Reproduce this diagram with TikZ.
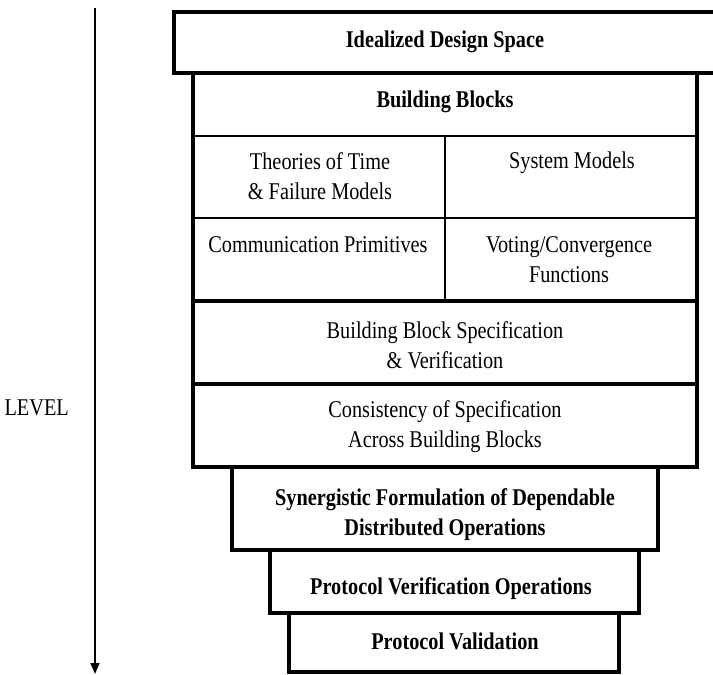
\documentclass[tikz,border=0pt]{standalone}
\usepackage{fontspec}
\newfontfamily\regf{Liberation Serif}[FakeStretch=0.845]
\newfontfamily\boldf{Liberation Serif}[FakeStretch=0.845]
\usetikzlibrary{arrows.meta}
\begin{document}
\begin{tikzpicture}[x=1pt,y=-1pt,
  reg/.style={font=\regf\fontsize{24}{30}\selectfont, align=center, inner sep=0pt},
  bld/.style={font=\boldf\bfseries\fontsize{24}{30}\selectfont, align=center, inner sep=0pt},
  heavy/.style={line width=4.3pt},
  outer/.style={line width=3.3pt},
  thin/.style={line width=1.8pt}]
\useasboundingbox (0,0) rectangle (713,675);
\fill[white] (0,0) rectangle (713,675);
% top box
\draw[heavy] (174,12) rectangle (725,73);
% building block stack
\draw[outer] (193,73) -- (193,467);
\draw[outer] (697,73) -- (697,467);
\draw[line width=2.5pt] (193,136) -- (697,136);
\draw[thin] (193,218) -- (697,218);
\draw[line width=3.5pt] (193,301) -- (697,301);
\draw[heavy] (193,384) -- (697,384);
\draw[thin] (445,136) -- (445,301);
\draw[heavy] (191.35,467) -- (698.65,467);
% lower boxes
\draw[line width=4pt] (232,467) rectangle (658,550);
\draw[line width=4pt] (270,550) rectangle (639,613);
\draw[line width=4pt] (289,613) rectangle (619,672);
% texts
\node[bld] (ids) at (445,42) {Idealized Design Space};
\node[bld] (bb) at (445,102) {Building Blocks};
\node[reg] (tt) at (320,176) {Theories of Time\\\& Failure Models};
\node[reg,anchor=north] (sm) at (572,152) {System Models};
\node[reg,anchor=north] (cp) at (318,236) {Communication Primitives};
\node[reg] (vc) at (569,260) {Voting/Convergence\\Functions};
\node[reg] (bbs) at (445,345) {Building Block Specification\\\& Verification};
\node[reg] (cs) at (445,427) {Consistency of Specification\\Across Building Blocks};
\node[bld] (sf) at (445,515) {Synergistic Formulation of Dependable\\Distributed Operations};
\node[bld] (pvo) at (451,589) {Protocol Verification Operations};
\node[bld] (pv) at (455,641) {Protocol Validation};
\node[reg,anchor=east] (lvl) at (69,408) {LEVEL};
% level arrow
\coordinate (atop) at (95,8);
\coordinate (abot) at (95,674);
\draw[line width=1.7pt,-{Triangle[length=11pt,width=9pt]}] (atop) -- (abot);
\end{tikzpicture}
\end{document}
